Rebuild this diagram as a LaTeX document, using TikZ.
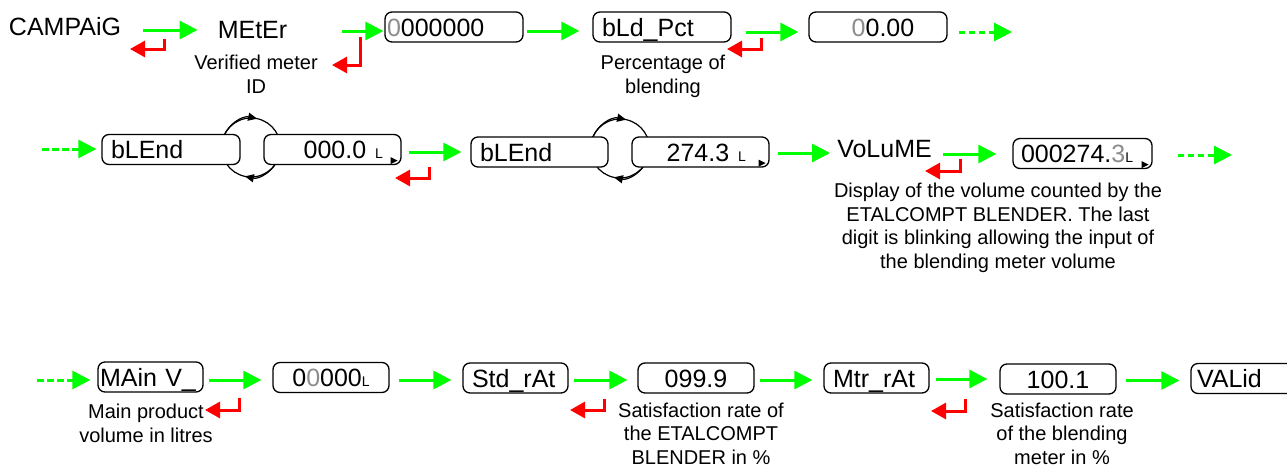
\documentclass[tikz,border=0pt]{standalone}
\usepackage{fontspec}
\setmainfont{Liberation Sans}
\usetikzlibrary{arrows.meta}
\definecolor{grn}{RGB}{0,255,0}
\definecolor{rd}{RGB}{255,0,0}
\definecolor{dgray}{RGB}{140,140,140}
\newcommand\bigf{\fontsize{25}{30}\selectfont}
\newcommand\descf{\fontsize{20}{23.6}\selectfont}
\newcommand\smallL{{\fontsize{14}{14}\selectfont L}}
\newcommand\grarr[5]{\draw[garrow] ([shift={(#3,#5)}]#1.east) coordinate (tmpa) -- ([xshift=-#4pt]#2.west |- tmpa);}
\newcommand\retarr[4]{\draw[rarrow] (#1,-#2) -- (#1,-#3) -- (#4,-#3);}
\newcommand\cornertri[1]{\fill ([shift={(-11,8)}]#1.south east) -- ++(0,-7) -- ++(7,3.5) -- cycle;}
\tikzset{
  lbl/.style={inner sep=0pt, font=\bigf},
  desc/.style={inner sep=0pt, font=\descf, align=center, anchor=north},
  box/.style={draw, line width=1.3pt, rounded corners=7pt, fill=white, minimum height=30pt,
    inner ysep=0pt, font=\bigf, text height=18pt, text depth=0pt},
  garrow/.style={grn, line width=3pt, -{Triangle[length=18pt,width=18pt]}},
  gdash/.style={grn, line width=3pt, dash pattern=on 6.5pt off 3.5pt, -{Triangle[length=18pt,width=18pt]}},
  rarrow/.style={rd, line width=3pt, line join=miter, -{Triangle[length=15pt,width=16pt]}},
  carrow/.style={line width=1.2pt, -{Triangle[length=9pt,width=8pt]}},
  cyc/.style={draw, circle, line width=1.2pt, minimum size=59pt, inner sep=0pt},
}
\begin{document}
\begin{tikzpicture}[x=1pt,y=1pt]
\clip (0,0) rectangle (1287,-466);
\useasboundingbox (0,0) rectangle (1287,-466);

% cycle circles (behind boxes)
\node[cyc] (cyc1) at (251,-147.5) {};
\draw[carrow] (cyc1.center) ++(160:29.5) arc[start angle=160, end angle=78, radius=29.5];
\draw[carrow] (cyc1.center) ++(-20:29.5) arc[start angle=-20, end angle=-102, radius=29.5];
\node[cyc] (cyc2) at (620,-148.5) {};
\draw[carrow] (cyc2.center) ++(160:29.5) arc[start angle=160, end angle=78, radius=29.5];
\draw[carrow] (cyc2.center) ++(-20:29.5) arc[start angle=-20, end angle=-102, radius=29.5];

% ---------- row 1 ----------
\node[lbl] (campaig) at (65,-27) {CAMPAiG};
\node[lbl] (meter) at (252.5,-30) {MEtEr};
\node[desc] (meterd) at (256,-55) {Verified meter\\ID};
\node[box, text width=134pt, inner xsep=2pt, align=left] (b1) at (454,-27) {\textcolor{dgray}{0}000000};
\node[box, text width=120pt, inner xsep=9pt, align=left] (b2) at (662,-27) {bLd\_Pct};
\node[desc] (b2d) at (663,-55) {Percentage of\\blending};
\node[box, text width=122pt, inner xsep=8pt, align=center] (b3) at (878,-27) {\hspace*{10pt}\textcolor{dgray}{0}0.00};
\coordinate (e1) at (1012,-32);

\grarr{campaig}{meter}{22}{20}{-3}
\grarr{meter}{b1}{55}{1}{-1}
\grarr{b1}{b2}{3}{13}{-4}
\grarr{b2}{b3}{14}{10}{-5}
\draw[gdash] ([xshift=11pt]b3.east |- e1) -- (e1);

\retarr{164}{39}{49}{130}
\retarr{360}{37}{65}{332}
\retarr{761}{38}{49}{727}

% ---------- row 2 ----------
\coordinate (d2s) at (42,-149);
\node[box, text width=120pt, inner xsep=9pt, align=left] (bl1) at (171,-149.5) {bLEnd};
\node[box, text width=101pt, inner xsep=18pt, align=right] (v1) at (332.5,-149.5) {000.0\hspace{9pt}\smallL};
\node[box, text width=119pt, inner xsep=9pt, align=left] (bl2) at (539.5,-152) {bLEnd};
\node[box, text width=91pt, inner xsep=23pt, align=right] (v2) at (700.5,-152) {274.3\hspace{9pt}\smallL};
\node[lbl] (volume) at (884.5,-149) {VoLuME};
\node[box, text width=123pt, inner xsep=8pt, align=left] (v3) at (1082.5,-153.5) {000274.\textcolor{dgray}{3}\smallL};
\node[desc] (vold) at (998,-183) {Display of the volume counted by the\\ETALCOMPT BLENDER. The last\\digit is blinking allowing the input of\\the blending meter volume};
\coordinate (e2) at (1232,-155);

\cornertri{v1}
\cornertri{v2}
\cornertri{v3}

\draw[gdash] (d2s) -- ([xshift=-5pt]bl1.west |- d2s);
\grarr{v1}{bl2}{7}{9}{-2.5}
\grarr{v2}{volume}{8}{7}{-1}
\grarr{volume}{v3}{11}{16}{-5}
\draw[gdash] ([xshift=25pt]v3.east |- e2) -- (e2);

\retarr{429}{167}{178}{395}
\retarr{960}{159}{171}{925}

% ---------- row 3 ----------
\coordinate (d3s) at (37,-380);
\node[box, text width=101pt, inner xsep=2pt, align=left] (mainv) at (150.5,-377) {MAin V\_};
\node[desc] (mainvd) at (146,-404) {Main product\\volume in litres};
\node[box, text width=100pt, inner xsep=8pt, align=center] (z5) at (331,-377.5) {0\textcolor{dgray}{0}000\smallL};
\node[box, text width=87pt, inner xsep=9pt, align=left] (std) at (515.5,-378) {Std\_rAt};
\node[box, text width=100pt, inner xsep=8pt, align=center] (r1) at (696,-378) {099.9};
\node[desc] (r1d) at (701,-402.5) {Satisfaction rate of\\the ETALCOMPT\\BLENDER in \%};
\node[box, text width=87pt, inner xsep=9pt, align=left] (mtr) at (876.5,-378) {Mtr\_rAt};
\node[box, text width=100pt, inner xsep=8pt, align=center] (r2) at (1058,-379) {100.1};
\node[desc] (r2d) at (1062,-402.5) {Satisfaction rate\\of the blending\\meter in \%};
\node[box, text width=93pt, inner xsep=6pt, align=left] (valid) at (1243.5,-378.5) {VALid};

\draw[gdash] (d3s) -- ([xshift=-7pt]mainv.west |- d3s);
\grarr{mainv}{z5}{5}{11}{-3}
\grarr{z5}{std}{9}{11}{-2.5}
\grarr{std}{r1}{5}{10}{-2}
\grarr{r1}{mtr}{5}{11}{-2}
\grarr{mtr}{r2}{6}{12}{-1}
\grarr{r2}{valid}{9}{11}{-1.5}

\retarr{239}{398}{410}{205}
\retarr{604}{399}{410}{570}
\retarr{965}{399}{411}{931}
\end{tikzpicture}
\end{document}
